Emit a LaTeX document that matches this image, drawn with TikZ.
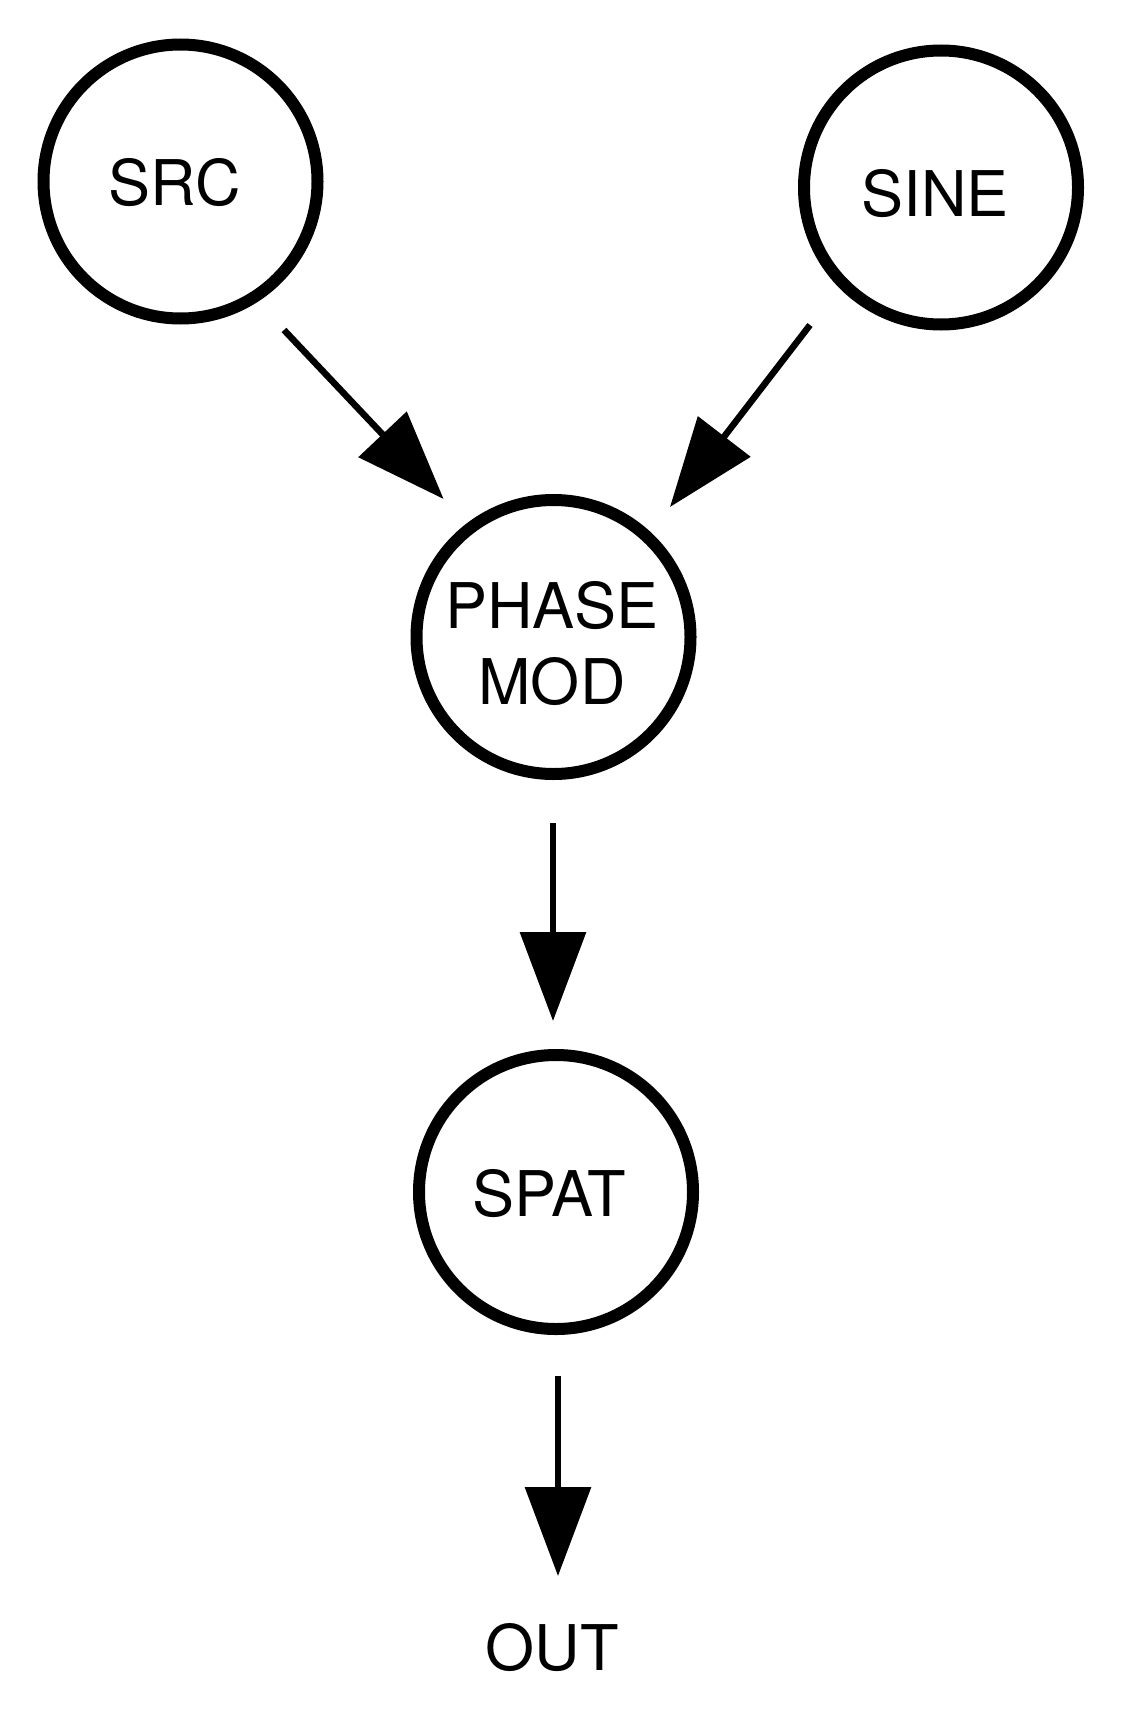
\documentclass[tikz,border=0pt]{standalone}
\usepackage{fontspec}
\setmainfont{TeX Gyre Heros}
\usetikzlibrary{arrows.meta}
\begin{document}
\begin{tikzpicture}[x=1pt,y=-1pt,
  bub/.style={circle,draw=black,line width=12pt,minimum size=274pt,inner sep=0pt},
  lbl/.style={inner sep=0pt,align=center,font=\fontsize{63}{76}\selectfont},
  conn/.style={line width=6.5pt,-{Triangle[length=89pt,width=65pt]}}]
\useasboundingbox[fill=white] (0,0) rectangle (1140,1726);
\node[bub] (src) at (180.5,181.5) {};
\node[bub] (sine) at (941,187.5) {};
\node[bub] (phase) at (553.5,637) {};
\node[bub] (spat) at (556,1192) {};
\node[lbl] (srct) at (175,183) {SRC};
\node[lbl] (sinet) at (935,194) {SINE};
\node[lbl] (phaset) at (552,644) {PHASE\\MOD};
\node[lbl] (spatt) at (549,1194) {SPAT};
\node[lbl] (out) at (552,1648) {OUT};
\coordinate (a1s) at (284,330);
\coordinate (a1e) at (443.6,499);
\coordinate (a2s) at (810,325);
\coordinate (a2e) at (670,507);
\coordinate (a3s) at (553,823);
\coordinate (a3e) at (553,1021);
\coordinate (a4s) at (558,1376);
\coordinate (a4e) at (558,1576);
\draw[conn] (a1s) -- (a1e);
\draw[conn] (a2s) -- (a2e);
\draw[conn] (a3s) -- (a3e);
\draw[conn] (a4s) -- (a4e);
\end{tikzpicture}
\end{document}
